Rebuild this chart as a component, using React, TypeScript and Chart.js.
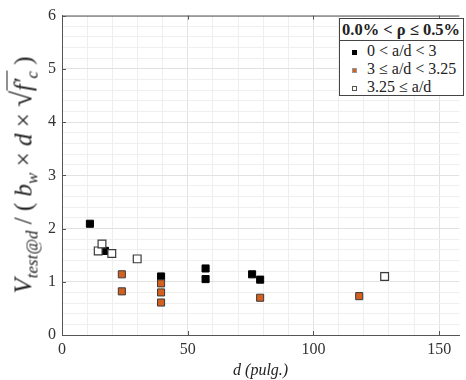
import React, { useEffect, useRef } from "react";
import { Chart, registerables } from "chart.js";

Chart.register(...registerables);

// Effective depth d (pulg.) and normalised shear strength, grouped by a/d
const dShort = [11.1, 17.1, 39.4, 57.1, 57.1, 75.6, 78.8];
const vShort = [2.09, 1.58, 1.1, 1.25, 1.05, 1.14, 1.04];

const dMid = [23.8, 23.8, 39.4, 39.4, 39.4, 78.8, 118.2];
const vMid = [1.14, 0.82, 0.97, 0.8, 0.61, 0.7, 0.73];

const dSlender = [14.4, 15.9, 19.8, 29.9, 128.3];
const vSlender = [1.58, 1.71, 1.53, 1.43, 1.1];

const xMajorTicks = [0, 50, 100, 150];
const yMajorTicks = [0, 1, 2, 3, 4, 5, 6];

const legendTitle = "0.0% < ρ ≤ 0.5%";
const legendLabels = ["0 < a/d < 3", "3 ≤ a/d < 3.25", "3.25 ≤ a/d"];

const ORANGE = "#d3601f";
const SERIF = '"Liberation Serif", "Times New Roman", serif';

const toPoints = (xs: number[], ys: number[]) => xs.map((x, i) => ({ x, y: ys[i] }));
const isMultiple = (v: number, step: number) => Math.abs(v / step - Math.round(v / step)) < 1e-6;

// Inward tick marks and the top frame line
const frameTicks = {
  id: "frameTicks",
  afterDraw(chart: any) {
    const { ctx, chartArea, scales } = chart;
    const xs = scales.x;
    const ys = scales.y;
    ctx.save();
    ctx.strokeStyle = "#555";
    ctx.lineWidth = 1;
    ctx.beginPath();
    ctx.moveTo(chartArea.left, chartArea.top + 0.5);
    ctx.lineTo(chartArea.right, chartArea.top + 0.5);
    xMajorTicks.forEach((v) => {
      const px = Math.round(xs.getPixelForValue(v)) + 0.5;
      ctx.moveTo(px, chartArea.bottom);
      ctx.lineTo(px, chartArea.bottom - 4);
      ctx.moveTo(px, chartArea.top);
      ctx.lineTo(px, chartArea.top + 4);
    });
    yMajorTicks.forEach((v) => {
      const py = Math.round(ys.getPixelForValue(v)) + 0.5;
      ctx.moveTo(chartArea.left, py);
      ctx.lineTo(chartArea.left + 4, py);
    });
    ctx.stroke();
    ctx.restore();
  },
};

export default function App() {
  const canvasRef = useRef<HTMLCanvasElement | null>(null);

  useEffect(() => {
    document.body.style.margin = "0";
    const canvas = canvasRef.current;
    if (!canvas) return;
    const chart = new Chart(canvas, {
      type: "scatter",
      data: {
        datasets: [
          {
            label: legendLabels[2],
            data: toPoints(dSlender, vSlender),
            pointStyle: "rect",
            pointRadius: 5.5,
            backgroundColor: "#ffffff",
            borderColor: "#3a3a3a",
            borderWidth: 1.2,
          },
          {
            label: legendLabels[1],
            data: toPoints(dMid, vMid),
            pointStyle: "rect",
            pointRadius: 5,
            backgroundColor: ORANGE,
            borderColor: "#3a3a3a",
            borderWidth: 1,
          },
          {
            label: legendLabels[0],
            data: toPoints(dShort, vShort),
            pointStyle: "rect",
            pointRadius: 5,
            backgroundColor: "#000000",
            borderColor: "#000000",
            borderWidth: 1,
          },
        ],
      },
      options: {
        animation: false,
        responsive: false,
        layout: { padding: { top: 13, right: 0, bottom: 0, left: 0 } },
        plugins: { legend: { display: false }, tooltip: { enabled: false } },
        scales: {
          x: {
            type: "linear",
            min: 0,
            max: 158,
            afterFit: (s: any) => {
              s.height = 45;
            },
            afterBuildTicks: (s: any) => {
              const t = [];
              for (let v = 0; v <= 150; v += 10) t.push({ value: v });
              s.ticks = t;
            },
            ticks: {
              autoSkip: false,
              maxRotation: 0,
              padding: 5,
              color: "#333",
              font: { family: SERIF, size: 16 },
              callback: (v: any) => (isMultiple(Number(v), 50) ? String(v) : ""),
            },
            grid: {
              drawTicks: false,
              color: (c: any) => (isMultiple(c.tick.value, 50) ? "#e2e2e2" : "#efefef"),
            },
            border: { color: "#555", width: 1 },
            title: {
              display: true,
              text: "d (pulg.)",
              color: "#222",
              font: { family: SERIF, size: 16, style: "italic" },
              padding: { top: 0, bottom: 0 },
            },
          },
          y: {
            type: "linear",
            min: 0,
            max: 6,
            afterFit: (s: any) => {
              s.width = 62;
            },
            afterBuildTicks: (s: any) => {
              const t = [];
              for (let i = 0; i <= 30; i++) t.push({ value: i / 5 });
              s.ticks = t;
            },
            ticks: {
              autoSkip: false,
              padding: 6,
              color: "#333",
              font: { family: SERIF, size: 16 },
              callback: (v: any) => (isMultiple(Number(v), 1) ? String(Math.round(Number(v))) : ""),
            },
            grid: {
              drawTicks: false,
              color: (c: any) => (isMultiple(c.tick.value, 1) ? "#e2e2e2" : "#efefef"),
            },
            border: { color: "#555", width: 1 },
          },
        },
      },
      plugins: [frameTicks],
    });
    return () => chart.destroy();
  }, []);

  const sq = (bg: string, border: string) => ({
    display: "inline-block",
    width: 3,
    height: 3,
    background: bg,
    border: `1px solid ${border}`,
    marginRight: 10,
    verticalAlign: "middle",
  });

  const subStyle = { fontSize: 17, fontStyle: "italic" as const };

  return (
    <div style={{ position: "fixed", left: 0, top: 0, width: 466, height: 380, background: "#fff", overflow: "hidden" }}>
      <canvas ref={canvasRef} width={466} height={380} style={{ display: "block" }} />
      {/* y-axis title */}
      <div
        style={{
          position: "absolute",
          left: 27,
          top: 175,
          transform: "translate(-50%, -50%) rotate(-90deg)",
          whiteSpace: "nowrap",
          fontFamily: SERIF,
          fontSize: 25,
          color: "#222",
          lineHeight: "30px",
        }}
      >
        <i>V</i>
        <sub style={subStyle}>test@d</sub>
        {" / ( "}
        <i>b</i>
        <sub style={subStyle}>w</sub>
        {" × "}
        <i>d</i>
        {" × "}
        <span style={{ fontSize: 29 }}>√</span>
        <span style={{ borderTop: "1.5px solid #222", paddingTop: 2 }}>
          <i>f′</i>
          <sub style={subStyle}>c</sub>
        </span>
        {" )"}
      </div>
      {/* legend */}
      <div
        style={{
          position: "absolute",
          left: 339,
          top: 18,
          width: 125,
          height: 78,
          border: "1px solid #444",
          background: "#fff",
          fontFamily: SERIF,
          fontSize: 16,
          color: "#222",
          boxSizing: "border-box",
        }}
      >
        <div
          style={{
            fontWeight: "bold",
            fontSize: 16.5,
            height: 21,
            lineHeight: "21px",
            paddingLeft: 2,
            borderBottom: "1px solid #444",
            whiteSpace: "nowrap",
          }}
        >
          {legendTitle}
        </div>
        <div style={{ paddingLeft: 12, lineHeight: "18px", paddingTop: 1, whiteSpace: "nowrap" }}>
          <div>
            <span style={sq("#000", "#000")} />
            {legendLabels[0]}
          </div>
          <div>
            <span style={sq(ORANGE, "#999")} />
            {legendLabels[1]}
          </div>
          <div>
            <span style={sq("#fff", "#555")} />
            {legendLabels[2]}
          </div>
        </div>
      </div>
    </div>
  );
}
